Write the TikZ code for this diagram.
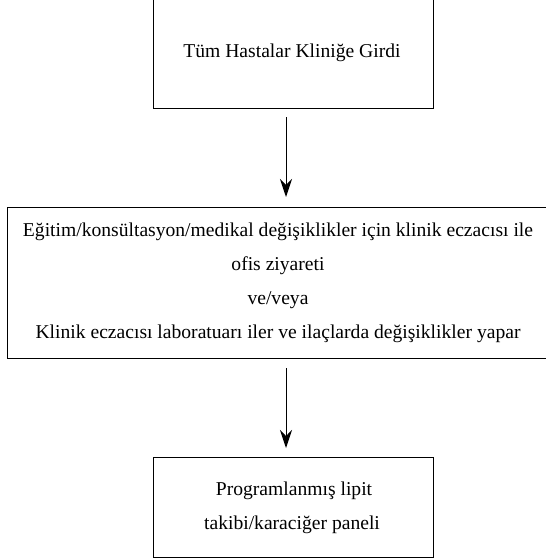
\documentclass[tikz,border=0pt]{standalone}
\usepackage{fontspec}
\setmainfont{Liberation Serif}
\usetikzlibrary{arrows.meta}
\begin{document}
\begin{tikzpicture}[x=1pt,y=-1pt,
  boxline/.style={draw=black,line width=1.3pt,inner sep=0pt,anchor=north west},
  txt/.style={font=\fontsize{19.6}{34}\selectfont,inner sep=0pt,anchor=base},
  arr/.style={line width=1pt,-{Stealth[length=18pt,width=12pt,inset=6pt]}}]
\useasboundingbox (0,0) rectangle (546,560);
\clip (0,0) rectangle (546,560);
% boxes
\node[boxline,minimum width=280pt,minimum height=120pt] (b1) at (153,-12) {};
\node[boxline,minimum width=560pt,minimum height=151pt] (b2) at (7,207) {};
\node[boxline,minimum width=280pt,minimum height=100pt] (b3) at (153,457) {};
% texts
\node[txt] (t1) at (292,57) {Tüm Hastalar Kliniğe Girdi};
\node[txt] (t2a) at (278,236) {Eğitim/konsültasyon/medikal değişiklikler için klinik eczacısı ile};
\node[txt] (t2b) at (278,270) {ofis ziyareti};
\node[txt] (t2c) at (278,304) {ve/veya};
\node[txt] (t2d) at (278,338) {Klinik eczacısı laboratuarı iler ve ilaçlarda değişiklikler yapar};
\node[txt] (t3a) at (294,495) {Programlanmış lipit};
\node[txt] (t3b) at (292,529) {takibi/karaciğer paneli};
% arrows
\coordinate (a1s) at (286,117);
\coordinate (a1e) at (286,197);
\coordinate (a2s) at (286,368);
\coordinate (a2e) at (286,448);
\draw[arr] (a1s) -- (a1e);
\draw[arr] (a2s) -- (a2e);
\end{tikzpicture}
\end{document}
